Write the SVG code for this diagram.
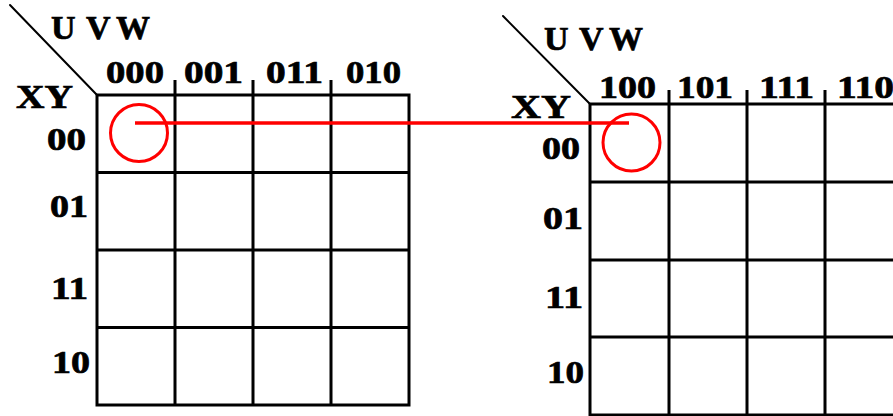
<svg xmlns="http://www.w3.org/2000/svg" width="893" height="416" viewBox="0 0 893 416">
  <style>
    .grid { fill: none; stroke: #000; stroke-width: 3; }
    .diag { stroke: #000; stroke-width: 2; stroke-linecap: round; }
    .lbl { font-family: "Liberation Serif", "Times New Roman", serif; font-weight: bold; font-size: 31px; fill: #000; stroke: #000; stroke-width: 0.7; }
    .var { font-size: 34px; }
    .mark { fill: none; stroke: #ff0000; stroke-width: 3; }
    .link { stroke: #ff0000; stroke-width: 3.5; }
  </style>
  <rect width="893" height="416" fill="#fff"/>

  <!-- Karnaugh map, U = 0 half -->
  <g id="map-left">
    <line class="diag" x1="10" y1="5" x2="97" y2="95"/>
    <rect class="grid" x="97" y="95" width="312" height="310"/>
    <path class="grid" d="M175 80V405M253 80V405M331 80V405M97 172.5H409M97 250H409M97 327.5H409"/>
    <text class="lbl var" y="39"><tspan x="51">U</tspan><tspan x="86">V</tspan><tspan x="116">W</tspan></text>
    <text class="lbl var" x="16" y="108" textLength="57" lengthAdjust="spacingAndGlyphs">XY</text>
    <text class="lbl" x="106" y="83" textLength="58" lengthAdjust="spacingAndGlyphs">000</text>
    <text class="lbl" x="184" y="83" textLength="59" lengthAdjust="spacingAndGlyphs">001</text>
    <text class="lbl" x="266" y="83" textLength="57" lengthAdjust="spacingAndGlyphs">011</text>
    <text class="lbl" x="346" y="83" textLength="55" lengthAdjust="spacingAndGlyphs">010</text>
    <text class="lbl" x="47" y="150" textLength="39" lengthAdjust="spacingAndGlyphs">00</text>
    <text class="lbl" x="50" y="217" textLength="38" lengthAdjust="spacingAndGlyphs">01</text>
    <text class="lbl" x="51" y="299" textLength="37" lengthAdjust="spacingAndGlyphs">11</text>
    <text class="lbl" x="52" y="373" textLength="38" lengthAdjust="spacingAndGlyphs">10</text>
  </g>

  <!-- Karnaugh map, U = 1 half -->
  <g id="map-right">
    <line class="diag" x1="503" y1="16" x2="590" y2="104"/>
    <rect class="grid" x="590" y="104" width="313" height="311"/>
    <path class="grid" d="M669 90V415M747 90V415M825 90V415M590 182H903M590 260H903M590 337H903"/>
    <text class="lbl var" y="50"><tspan x="544">U</tspan><tspan x="579">V</tspan><tspan x="609">W</tspan></text>
    <text class="lbl var" x="511" y="118" textLength="60" lengthAdjust="spacingAndGlyphs">XY</text>
    <text class="lbl" x="599" y="98" textLength="57" lengthAdjust="spacingAndGlyphs">100</text>
    <text class="lbl" x="677" y="98" textLength="56" lengthAdjust="spacingAndGlyphs">101</text>
    <text class="lbl" x="759" y="98" textLength="55" lengthAdjust="spacingAndGlyphs">111</text>
    <text class="lbl" x="837" y="98" textLength="57" lengthAdjust="spacingAndGlyphs">110</text>
    <text class="lbl" x="542" y="159" textLength="38" lengthAdjust="spacingAndGlyphs">00</text>
    <text class="lbl" x="543" y="229" textLength="40" lengthAdjust="spacingAndGlyphs">01</text>
    <text class="lbl" x="545" y="308" textLength="38" lengthAdjust="spacingAndGlyphs">11</text>
    <text class="lbl" x="547" y="383" textLength="37" lengthAdjust="spacingAndGlyphs">10</text>
  </g>

  <!-- highlighted cells -->
  <g id="mark-left">
    <circle class="mark" cx="139" cy="133" r="28.5"/>
  </g>
  <g id="mark-right">
    <circle class="mark" cx="631.5" cy="142.5" r="28.5"/>
  </g>

  <!-- adjacency link between the two marked cells -->
  <g id="connectors">
    <line class="link" x1="135" y1="123" x2="629" y2="123"/>
  </g>
</svg>
